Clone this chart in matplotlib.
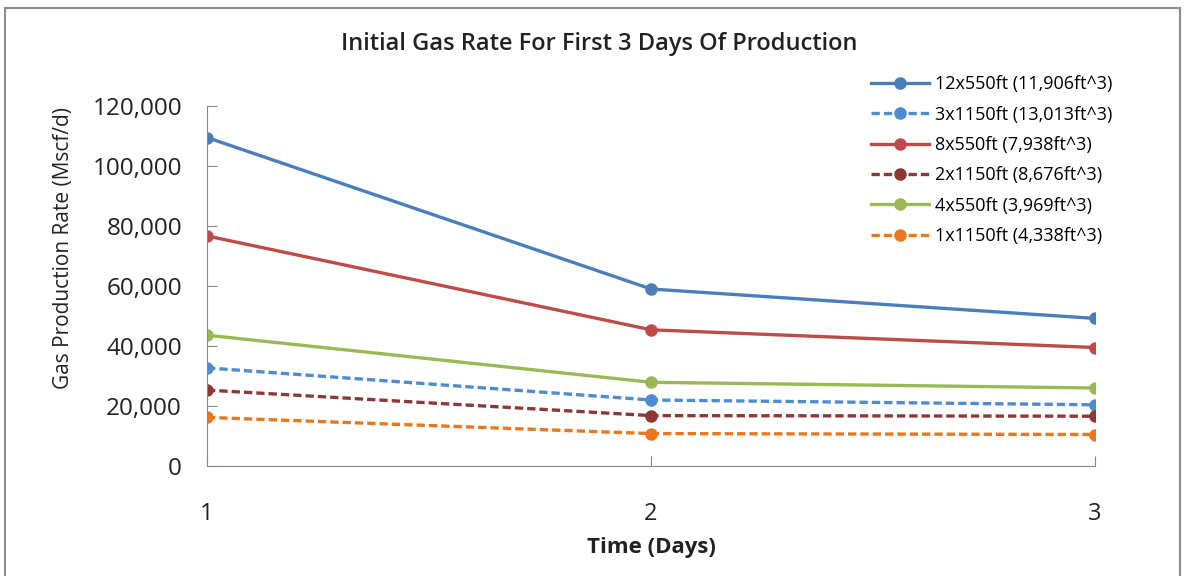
import matplotlib.pyplot as plt
from matplotlib.patches import Rectangle
from matplotlib.ticker import FuncFormatter

plt.rcParams['font.family'] = ['Open Sans', 'DejaVu Sans']

days = [1, 2, 3]
labels = ['12x550ft (11,906ft^3)', '3x1150ft (13,013ft^3)', '8x550ft (7,938ft^3)',
          '2x1150ft (8,676ft^3)', '4x550ft (3,969ft^3)', '1x1150ft (4,338ft^3)']
rate_12x550 = [109500, 59000, 49200]
rate_3x1150 = [32700, 22000, 20400]
rate_8x550 = [76700, 45400, 39500]
rate_2x1150 = [25300, 16800, 16600]
rate_4x550 = [43600, 27900, 26000]
rate_1x1150 = [16200, 10800, 10500]

series = [rate_12x550, rate_3x1150, rate_8x550, rate_2x1150, rate_4x550, rate_1x1150]
colors = ['#4A7EBB', '#4F8BD0', '#BE4B48', '#8C3836', '#98B954', '#E8771E']
styles = ['-', '--', '-', '--', '-', '--']

fig = plt.figure(figsize=(11.85, 5.76), dpi=100)
ax = fig.add_axes([207/1185, 1 - 466/576, (1095 - 207)/1185, (466 - 106)/576])

for vals, lab, c, ls in zip(series, labels, colors, styles):
    ax.plot(days, vals, ls, color=c, lw=2.4, marker='o', markersize=8, label=lab,
            dashes=(2.5, 1.2) if ls == '--' else (None, None))

ax.set_xlim(1, 3)
ax.set_ylim(0, 120000)
ax.set_xticks(days)
ax.set_yticks(range(0, 120001, 20000))
ax.yaxis.set_major_formatter(FuncFormatter(lambda v, p: f'{int(v):,}'))
for s in ['top', 'right']:
    ax.spines[s].set_visible(False)
for s in ['left', 'bottom']:
    ax.spines[s].set_color('#868686')
ax.tick_params(axis='y', direction='in', length=7, color='#868686', labelsize=17.5, pad=18, labelcolor='#222222')
ax.tick_params(axis='x', direction='in', length=7, color='#868686', labelsize=17, pad=26, labelcolor='#222222')

fig.text(599/1185, 1 - 44/576, 'Initial Gas Rate For First 3 Days Of Production', fontsize=17,
         fontweight='semibold', color='#222222', ha='center', va='center')
ax.set_ylabel('Gas Production Rate (Mscf/d)', fontsize=15, color='#222222')
ax.yaxis.set_label_coords(-0.15, 0.605)
ax.set_xlabel('Time (Days)', fontsize=16, fontweight='bold', labelpad=8, color='#222222')

leg = ax.legend(loc='upper left', bbox_to_anchor=(0.73, 1.13), frameon=False, fontsize=13,
                handlelength=3.2, labelspacing=0.68, handletextpad=0.3)

fig.patches.append(Rectangle((5/1185, -0.02), 1175/1185, 1.006, transform=fig.transFigure,
                             fill=False, edgecolor='#8c8c8c', lw=1.5))

fig.savefig('out.png', dpi=100)
